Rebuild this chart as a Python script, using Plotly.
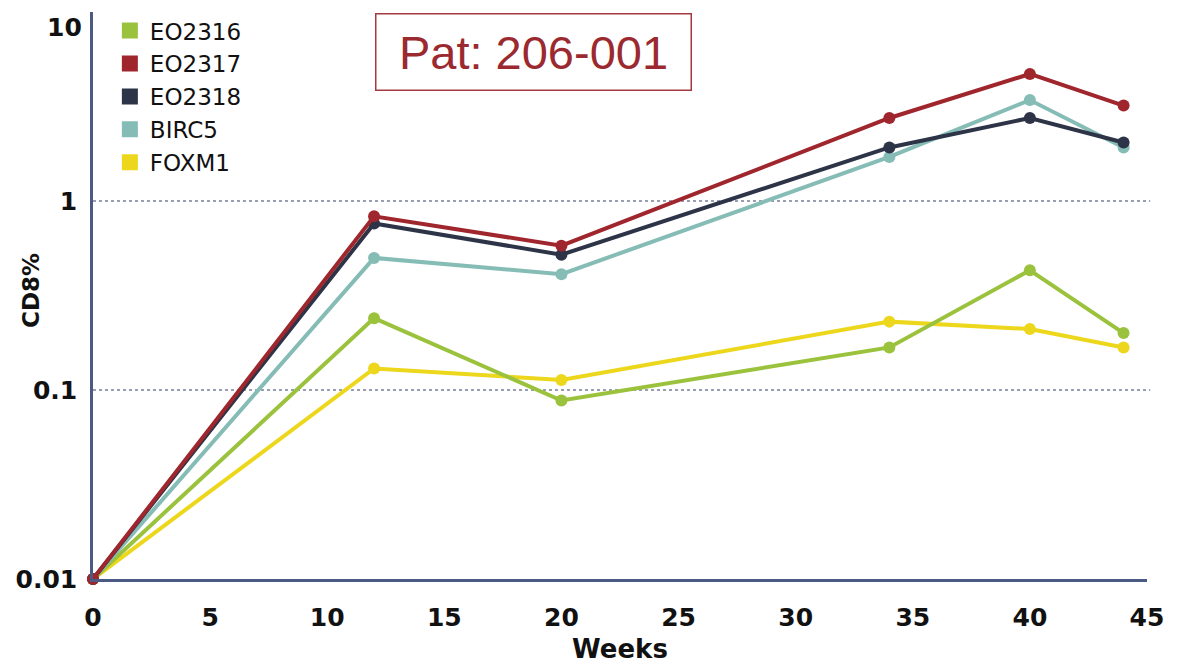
import math
import plotly.graph_objects as go

weeks = [0, 12, 20, 34, 40, 44]
series_names = ["EO2316", "EO2317", "EO2318", "BIRC5", "FOXM1"]
eo2316 = [0.01, 0.24, 0.088, 0.168, 0.43, 0.20]
eo2317 = [0.01, 0.83, 0.58, 2.75, 4.7, 3.2]
eo2318 = [0.01, 0.76, 0.52, 1.92, 2.75, 2.04]
birc5 = [0.01, 0.50, 0.41, 1.71, 3.42, 1.92]
foxm1 = [0.01, 0.13, 0.113, 0.23, 0.21, 0.168]
colors = ["#9bc23c", "#a0262e", "#2d3447", "#86bcb6", "#ecd71c"]
x_ticks = [0, 5, 10, 15, 20, 25, 30, 35, 40, 45]
y_ticks = [0.01, 0.1, 1]
y_tick_text = ["0.01", "0.1", "1"]
y_top_label = "10"
grid_levels = [0.1, 1]
y_log_range = [-2, 1]

values = [eo2316, eo2317, eo2318, birc5, foxm1]
fig = go.Figure()
order = [4, 0, 3, 2, 1]
for i in order:
    fig.add_trace(go.Scatter(
        x=weeks, y=values[i], mode="lines+markers", name=series_names[i],
        line=dict(color=colors[i], width=4),
        marker=dict(color=colors[i], size=12),
        showlegend=False, cliponaxis=False,
    ))
for i in range(5):
    fig.add_trace(go.Scatter(
        x=[None], y=[None], mode="markers", name=series_names[i],
        marker=dict(color=colors[i], size=18, symbol="square"),
        showlegend=True,
    ))

for g in grid_levels:
    yp = (math.log10(g) - y_log_range[0]) / (y_log_range[1] - y_log_range[0])
    fig.add_shape(type="line", xref="paper", x0=0, x1=1.003, yref="paper",
                  y0=yp, y1=yp,
                  line=dict(color="#7a7f9a", width=1.3, dash="dot"), layer="below")

tick_font = dict(family="DejaVu Sans", size=25, color="#111111", weight="bold")

# top tick label of the log axis (sits just below the axis end, as in the reference)
fig.add_annotation(
    text=y_top_label, xref="paper", yref="paper", x=0, y=1,
    xanchor="right", yanchor="top", xshift=-9, yshift=1, showarrow=False,
    font=tick_font,
)
fig.add_annotation(
    text="Pat: 206-001", xref="paper", yref="paper", x=0.4175, y=0.9286,
    xanchor="center", yanchor="middle", showarrow=False,
    font=dict(family="Liberation Sans, Arial", size=47, color="#9b2a30"),
    bordercolor="#a33a40", borderwidth=1.5, borderpad=0, width=314, height=75,
    bgcolor="white",
)
fig.add_annotation(
    text="<b>CD8%</b>", xref="paper", yref="paper", x=-0.0588, y=0.508,
    xanchor="center", yanchor="middle", showarrow=False, textangle=-90,
    font=dict(family="DejaVu Sans", size=23, color="#111111"),
)

fig.update_layout(
    width=1187, height=664,
    margin=dict(l=93, r=40, t=12, b=85, autoexpand=False),
    paper_bgcolor="white", plot_bgcolor="white",
    font=dict(family="DejaVu Sans", color="#111111"),
    legend=dict(x=0.016, y=1.005, xanchor="left", yanchor="top",
                font=dict(family="DejaVu Sans", size=23, color="#111111"),
                itemsizing="trace", tracegroupgap=0, bgcolor="rgba(0,0,0,0)"),
    xaxis=dict(range=[0, 45], tickvals=x_ticks, showgrid=False, zeroline=False,
               automargin=False,
               showline=True, linecolor="#4b5a82", linewidth=2.5, ticks="",
               ticklabelstandoff=14,
               tickfont=tick_font,
               title=dict(text="Weeks", standoff=18,
                          font=dict(family="DejaVu Sans", size=26, color="#111111", weight="bold"))),
    yaxis=dict(type="log", range=y_log_range, tickvals=y_ticks, ticktext=y_tick_text,
               showgrid=False, zeroline=False, showline=True, linecolor="#4b5a82",
               automargin=False, ticklabeloverflow="allow",
               linewidth=2.5, ticks="", ticklabelstandoff=8,
               tickfont=tick_font),
)

fig.write_html("out.html", config={"displayModeBar": False},
               post_script="document.body.style.margin='0';")
